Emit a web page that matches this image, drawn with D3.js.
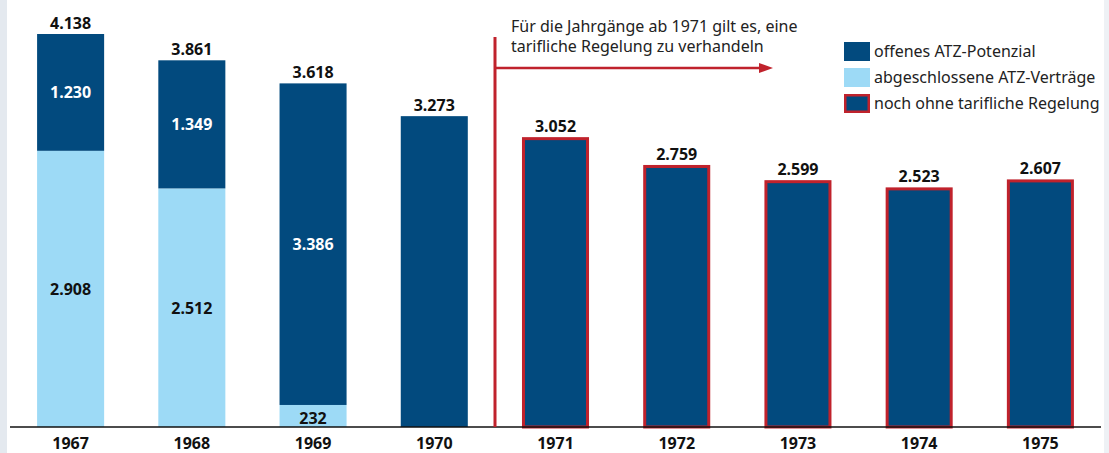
<!DOCTYPE html>
<html>
<head>
<meta charset="utf-8">
<script src="https://cdn.jsdelivr.net/npm/d3@7"></script>
<style>
  body { margin: 0; background: #fff; }
  svg { display: block; font-family: "Noto Sans", sans-serif; }
</style>
</head>
<body>
<div id="chart"></div>
<script>
// chart data
const years = ["1967", "1968", "1969", "1970", "1971", "1972", "1973", "1974", "1975"];
const abgeschlossen = [2908, 2512, 232, 0, 0, 0, 0, 0, 0];
const offen = [1230, 1349, 3386, 3273, 3052, 2759, 2599, 2523, 2607];
const ohneRegelung = [false, false, false, false, true, true, true, true, true];
const legendLabels = ["offenes ATZ-Potenzial", "abgeschlossene ATZ-Verträge", "noch ohne tarifliche Regelung"];
const noteLines = ["Für die Jahrgänge ab 1971 gilt es, eine", "tarifliche Regelung zu verhandeln"];

const size = { width: 1109, height: 453 };
const base = 427;
const colors = { dark: "#024a7e", light: "#9ddaf6", red: "#c0222c" };

const fmt = v => d3.format(",")(v).replace(/,/g, ".");

const svg = d3.select("#chart").append("svg")
  .attr("width", size.width)
  .attr("height", size.height);

// side strips
svg.append("rect").attr("x", 0).attr("y", 0).attr("width", 7).attr("height", size.height).attr("fill", "#e4e9ef");
svg.append("rect").attr("x", 1104).attr("y", 0).attr("width", 5).attr("height", size.height).attr("fill", "#eef1f5");

const x = d3.scaleBand()
  .domain(years)
  .range([10, 1101])
  .paddingInner(0.447)
  .paddingOuter(0.2235);

const y = d3.scaleLinear()
  .domain([0, 4138])
  .range([base, 34]);

const rows = years.map((yr, i) => ({
  year: yr, low: abgeschlossen[i], high: offen[i], total: abgeschlossen[i] + offen[i], red: ohneRegelung[i]
}));

// light part
svg.selectAll("rect.low").data(rows.filter(d => d.low > 0)).enter().append("rect")
  .attr("class", "low")
  .attr("x", d => x(d.year))
  .attr("width", x.bandwidth())
  .attr("y", d => y(d.low))
  .attr("height", d => base - y(d.low))
  .attr("fill", colors.light);

// dark part
svg.selectAll("rect.high").data(rows).enter().append("rect")
  .attr("class", "high")
  .attr("x", d => x(d.year) + (d.red ? 1.5 : 0))
  .attr("width", d => x.bandwidth() - (d.red ? 3 : 0))
  .attr("y", d => y(d.total) + (d.red ? 1.5 : 0))
  .attr("height", d => y(d.low) - y(d.total) - (d.red ? 1.5 : 0))
  .attr("fill", colors.dark)
  .attr("stroke", d => d.red ? colors.red : "none")
  .attr("stroke-width", 3);

// totals
svg.selectAll("text.total").data(rows).enter().append("text")
  .attr("x", d => x(d.year) + x.bandwidth() / 2)
  .attr("y", d => y(d.total) - 5)
  .attr("text-anchor", "middle")
  .attr("font-size", 16).attr("font-weight", "bold").attr("fill", "#111")
  .text(d => fmt(d.total));

// inner labels for stacked bars
const stacked = rows.filter(d => d.low > 0);
svg.selectAll("text.hi").data(stacked).enter().append("text")
  .attr("x", d => x(d.year) + x.bandwidth() / 2)
  .attr("y", d => (y(d.total) + y(d.low)) / 2 + 6)
  .attr("text-anchor", "middle")
  .attr("font-size", 16).attr("font-weight", "bold").attr("fill", "#fff")
  .text(d => fmt(d.high));
svg.selectAll("text.lo").data(stacked).enter().append("text")
  .attr("x", d => x(d.year) + x.bandwidth() / 2)
  .attr("y", d => d.low < 500 ? base - 3 : (base + y(d.low)) / 2 + 6)
  .attr("text-anchor", "middle")
  .attr("font-size", 16).attr("font-weight", "bold").attr("fill", "#111")
  .text(d => fmt(d.low));

// x axis
const xAxis = svg.append("g")
  .attr("transform", `translate(0, ${base})`)
  .call(d3.axisBottom(x).tickSize(0).tickPadding(11));
xAxis.select(".domain").attr("d", "M10,0H1101").attr("stroke", "#111").attr("stroke-width", 1.3);
xAxis.selectAll("text").attr("font-size", 16).attr("font-weight", "bold").attr("fill", "#111")
  .attr("font-family", "Noto Sans, sans-serif");

// divider + note
svg.append("line").attr("x1", 495).attr("x2", 495).attr("y1", 37).attr("y2", base)
  .attr("stroke", colors.red).attr("stroke-width", 3);
svg.append("line").attr("x1", 495).attr("x2", 762).attr("y1", 68).attr("y2", 68)
  .attr("stroke", colors.red).attr("stroke-width", 2.5);
svg.append("path").attr("d", "M759,63L773,68L759,73Z").attr("fill", colors.red);
svg.selectAll("text.note").data(noteLines).enter().append("text")
  .attr("x", 511).attr("y", (d, i) => 32 + i * 20)
  .attr("font-size", 16).attr("fill", "#222")
  .text(d => d);

// legend
const lg = svg.append("g").attr("transform", "translate(844, 42)");
legendLabels.forEach((lab, i) => {
  const g = lg.append("g").attr("transform", `translate(0, ${i * 26})`);
  g.append("rect")
    .attr("x", i === 2 ? 1.25 : 0).attr("y", i === 2 ? 1.25 : 0)
    .attr("width", i === 2 ? 23.5 : 26).attr("height", i === 2 ? 16.5 : 19)
    .attr("fill", i === 1 ? colors.light : colors.dark)
    .attr("stroke", i === 2 ? colors.red : "none").attr("stroke-width", 2.5);
  g.append("text").attr("x", 30).attr("y", 15).attr("font-size", 16).attr("fill", "#222").text(lab);
});
</script>
</body>
</html>
